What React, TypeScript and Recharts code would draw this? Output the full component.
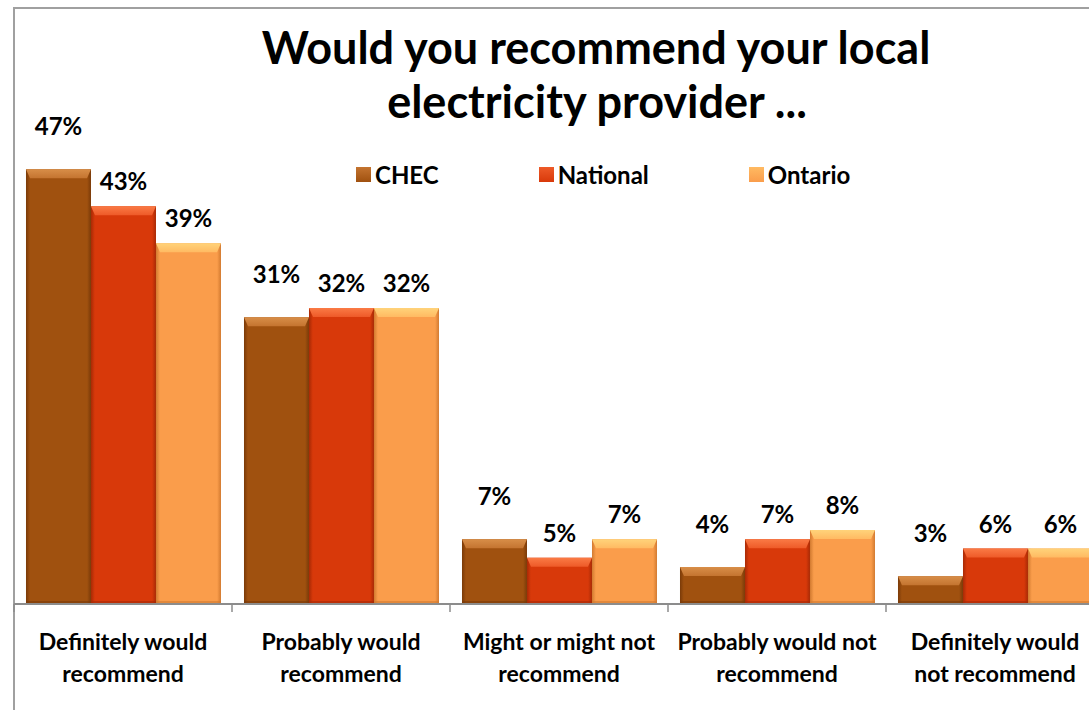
import React from "react";
import { BarChart, Bar, XAxis, YAxis, LabelList, Legend } from "recharts";

const categories = [
  "Definitely would recommend",
  "Probably would recommend",
  "Might or might not recommend",
  "Probably would not recommend",
  "Definitely would not recommend",
];
const tickLines = [
  ["Definitely would", "recommend"],
  ["Probably would", "recommend"],
  ["Might or might not", "recommend"],
  ["Probably would not", "recommend"],
  ["Definitely would", "not recommend"],
];
const seriesNames = ["CHEC", "National", "Ontario"];
const chec = [47, 31, 7, 4, 3];
const national = [43, 32, 5, 7, 6];
const ontario = [39, 32, 7, 8, 6];

const data = categories.map((c, i) => ({
  category: c,
  CHEC: chec[i],
  National: national[i],
  Ontario: ontario[i],
}));

const palette: Record<string, { base: string; dark: string; light: string; lighter: string }> = {
  CHEC: { base: "#A0510F", dark: "#7A3A08", light: "#C47430", lighter: "#D88E48" },
  National: { base: "#D8390A", dark: "#A82A05", light: "#EE5A28", lighter: "#FA7A45" },
  Ontario: { base: "#FA9D4B", dark: "#D27A30", light: "#FFBA62", lighter: "#FFD37A" },
};

const FONT = "Lato, 'Open Sans', sans-serif";

function makeShape(key: string) {
  const c = palette[key];
  return (props: any) => {
    const { x, y, width, height } = props;
    if (!height || height <= 0) return <g />;
    const b = Math.min(9, height / 2);
    const e = Math.min(4, width / 4);
    return (
      <g>
        <defs>
          <linearGradient id={`side-${key}`} x1="0" y1="0" x2="1" y2="0">
            <stop offset="0%" stopColor={c.dark} />
            <stop offset="6%" stopColor={c.base} />
            <stop offset="94%" stopColor={c.base} />
            <stop offset="100%" stopColor={c.dark} />
          </linearGradient>
          <linearGradient id={`top-${key}`} x1="0" y1="0" x2="0" y2="1">
            <stop offset="0%" stopColor={c.lighter} />
            <stop offset="100%" stopColor={c.light} />
          </linearGradient>
        </defs>
        <rect x={x} y={y} width={width} height={height} fill={`url(#side-${key})`} />
        <polygon
          points={`${x},${y} ${x + width},${y} ${x + width - e},${y + b} ${x + e},${y + b}`}
          fill={`url(#top-${key})`}
        />
        <rect x={x} y={y + height - 3} width={width} height={3} fill={c.dark} opacity={0.6} />
      </g>
    );
  };
}

const AxisTick = (props: any) => {
  const { x, y, index, width } = props;
  const half = width / categories.length / 2;
  const lines = tickLines[index] || [];
  return (
    <g>
      <line x1={x - half} y1={y} x2={x - half} y2={y + 8} stroke="#8c8c8c" strokeWidth={1.5} />
      {lines.map((l, i) => (
        <text
          key={i}
          x={x}
          y={y + 46 + i * 32}
          textAnchor="middle"
          fontFamily={FONT}
          fontWeight={700}
          fontSize={23}
          fill="#000"
        >
          {l}
        </text>
      ))}
    </g>
  );
};

const LegendContent = () => (
  <div style={{ display: "flex", gap: 100, alignItems: "center", fontFamily: FONT }}>
    {seriesNames.map((n) => (
      <div key={n} style={{ display: "flex", alignItems: "center" }}>
        <span
          style={{
            display: "inline-block",
            width: 15,
            height: 15,
            marginRight: 4,
            background: `linear-gradient(${palette[n].light}, ${palette[n].base})`,
          }}
        />
        <span style={{ fontWeight: 700, fontSize: 24, color: "#000" }}>{n}</span>
      </div>
    ))}
  </div>
);

export default function App() {
  const labelProps = {
    fill: "#000",
    fontSize: 24,
    fontWeight: 700,
    fontFamily: FONT,
  };
  return (
    <div
      style={{
        position: "absolute",
        left: 0,
        top: 0,
        width: 1089,
        height: 710,
        overflow: "hidden",
        background: "#fff",
        fontFamily: FONT,
      }}
    >
      <div
        style={{
          position: "absolute",
          left: 13,
          top: 7,
          width: 1100,
          height: 720,
          borderLeft: "2px solid #a0a0a0",
          borderTop: "2px solid #a0a0a0",
          boxSizing: "border-box",
        }}
      />
      <svg
        width={1089}
        height={140}
        style={{ position: "absolute", left: 0, top: 0, pointerEvents: "none" }}
      >
        <text x={596} y={64} textAnchor="middle" fontFamily={FONT} fontWeight={700} fontSize={45} fill="#000">
          Would you recommend your local
        </text>
        <text x={597} y={118} textAnchor="middle" fontFamily={FONT} fontWeight={700} fontSize={45} fill="#000">
          electricity provider ...
        </text>
      </svg>
      <div style={{ position: "absolute", left: 0, top: 0 }}>
        <BarChart
          width={1104}
          height={710}
          data={data}
          margin={{ top: 141.5, right: 0, bottom: 0, left: 14 }}
          barCategoryGap="5.5%"
          barGap={0}
        >
          <YAxis hide domain={[0, 50]} />
          <XAxis
            dataKey="category"
            height={106}
            tickSize={0}
            tickMargin={0}
            axisLine={{ stroke: "#8c8c8c", strokeWidth: 2 }}
            tickLine={false}
            tick={<AxisTick />}
            interval={0}
          />
          <Legend
            layout="horizontal"
            verticalAlign="middle"
            align="center"
            content={<LegendContent />}
            wrapperStyle={{ top: 160, left: 356, width: "auto" }}
          />
          <Bar dataKey="CHEC" isAnimationActive={false} shape={makeShape("CHEC")} fill={palette.CHEC.base}>
            <LabelList
              dataKey="CHEC"
              position="top"
              offset={34}
              formatter={(v: any) => `${v}%`}
              {...labelProps}
            />
          </Bar>
          <Bar dataKey="National" isAnimationActive={false} shape={makeShape("National")} fill={palette.National.base}>
            <LabelList
              dataKey="National"
              position="top"
              offset={16}
              formatter={(v: any) => `${v}%`}
              {...labelProps}
            />
          </Bar>
          <Bar dataKey="Ontario" isAnimationActive={false} shape={makeShape("Ontario")} fill={palette.Ontario.base}>
            <LabelList
              dataKey="Ontario"
              position="top"
              offset={16}
              formatter={(v: any) => `${v}%`}
              {...labelProps}
            />
          </Bar>
        </BarChart>
      </div>
    </div>
  );
}
